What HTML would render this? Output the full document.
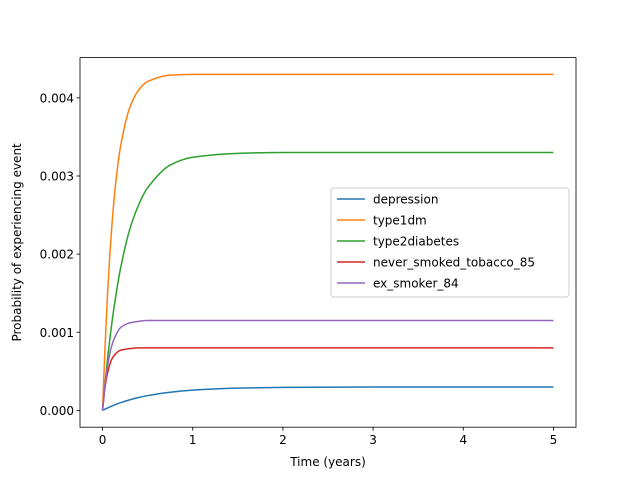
<!DOCTYPE html>
<html><head><meta charset="utf-8"><style>
body{margin:0;background:#fff;}
svg text{font-family:"DejaVu Sans","Liberation Sans",sans-serif;font-size:12px;fill:#000;}
</style></head><body>
<svg id="chart" width="640" height="480" xmlns="http://www.w3.org/2000/svg">
<rect width="640" height="480" fill="#fff"/>
<g id="plot"></g>
</svg>
<script>
const times = [0,0.025,0.05,0.1,0.15,0.2,0.3,0.4,0.5,0.75,1,1.5,2,3,4,5];
const seriesNames = ["depression","type1dm","type2diabetes","never_smoked_tobacco_85","ex_smoker_84"];
const colors = ["#1f77b4","#ff7f0e","#2ca02c","#d62728","#9467bd"];
const depression = [0,0.000015,0.0000285,0.000054,0.000078,0.000099,0.000135,0.000165,0.00019,0.000233,0.00026,0.000285,0.000294,0.0003,0.0003,0.0003];
const type1dm = [0,0.00074,0.00137,0.00231,0.00295,0.00338,0.00387,0.0041,0.00421,0.00429,0.0043,0.0043,0.0043,0.0043,0.0043,0.0043];
const type2diabetes = [0,0.00031,0.0006,0.00109,0.00149,0.00182,0.00231,0.00263,0.00285,0.00314,0.00324,0.00329,0.0033,0.0033,0.0033,0.0033];
const neverSmoked = [0,0.00027,0.00045,0.00065,0.00073,0.00077,0.00079,0.0008,0.0008,0.0008,0.0008,0.0008,0.0008,0.0008,0.0008,0.0008];
const exSmoker = [0,0.0003,0.00053,0.00082,0.00097,0.00106,0.00112,0.00114,0.00115,0.00115,0.00115,0.00115,0.00115,0.00115,0.00115,0.00115];
const seriesValues = [depression,type1dm,type2diabetes,neverSmoked,exSmoker];
const xTicks = [0,1,2,3,4,5];
const yTicks = [0,0.001,0.002,0.003,0.004];
const yTickLabels = ["0.000","0.001","0.002","0.003","0.004"];

const L=80,R=576,T=57.6,B=427.2;
const xMin=-0.25,xMax=5.25,yMin=-0.000215,yMax=0.004515;
const sx=v=>L+(v-xMin)/(xMax-xMin)*(R-L);
const sy=v=>B-(v-yMin)/(yMax-yMin)*(B-T);
const NS="http://www.w3.org/2000/svg";
const g=document.getElementById('plot');
function mk(tag,attrs,parent){const e=document.createElementNS(NS,tag);for(const k in attrs)e.setAttribute(k,attrs[k]);(parent||g).appendChild(e);return e;}

function monotonePath(xs,ys){
  const n=xs.length,d=[],m=new Array(n).fill(0);
  for(let i=0;i<n-1;i++)d.push((ys[i+1]-ys[i])/(xs[i+1]-xs[i]));
  m[0]=d[0];m[n-1]=d[n-2];
  for(let i=1;i<n-1;i++){m[i]=(d[i-1]*d[i]<=0)?0:(2/(1/d[i-1]+1/d[i]));}
  let p='M'+xs[0]+','+ys[0];
  for(let i=0;i<n-1;i++){const h=xs[i+1]-xs[i];
    p+=' C'+(xs[i]+h/3)+','+(ys[i]+m[i]*h/3)+' '+(xs[i+1]-h/3)+','+(ys[i+1]-m[i+1]*h/3)+' '+xs[i+1]+','+ys[i+1];}
  return p;
}

seriesValues.forEach((vals,i)=>{
  const p=mk('path',{d:monotonePath(times.map(sx),vals.map(sy)),fill:'none',stroke:colors[i],'stroke-width':1.5,'stroke-linejoin':'round'});
  
  
});
const frame=mk('rect',{x:L,y:T,width:R-L,height:B-T,fill:'none',stroke:'#000','stroke-width':0.8});



xTicks.forEach(t=>{
  const x=sx(t);
  mk('line',{x1:x,x2:x,y1:B,y2:B+3.5,stroke:'#000','stroke-width':0.8});
  const tx=mk('text',{x:x,y:B+17,'text-anchor':'middle'});tx.textContent=String(t);
  
  
});
yTicks.forEach((t,i)=>{
  const y=sy(t);
  mk('line',{x1:L-3.5,x2:L,y1:y,y2:y,stroke:'#000','stroke-width':0.8});
  const tx=mk('text',{x:L-6,y:y+4.5,'text-anchor':'end'});tx.textContent=yTickLabels[i];
  
  
});
const xt=mk('text',{x:(L+R)/2,y:466,'text-anchor':'middle'});xt.textContent='Time (years)';


const yt=mk('text',{x:21,y:(T+B)/2,'text-anchor':'middle',transform:'rotate(-90 21 '+((T+B)/2)+')'});yt.textContent='Probability of experiencing event';



const lg=mk('g',{});


mk('rect',{x:331,y:188,width:238,height:109,rx:3,fill:'#fff','fill-opacity':0.8,stroke:'#ccc','stroke-width':1},lg);
seriesNames.forEach((n,i)=>{
  const y=199+i*21;
  const e=mk('g',{},lg);
  
  
  mk('line',{x1:337,x2:365,y1:y,y2:y,stroke:colors[i],'stroke-width':1.5},e);
  const t=mk('text',{x:373,y:y+4.5},e);t.textContent=n;
});
</script>
</body></html>
